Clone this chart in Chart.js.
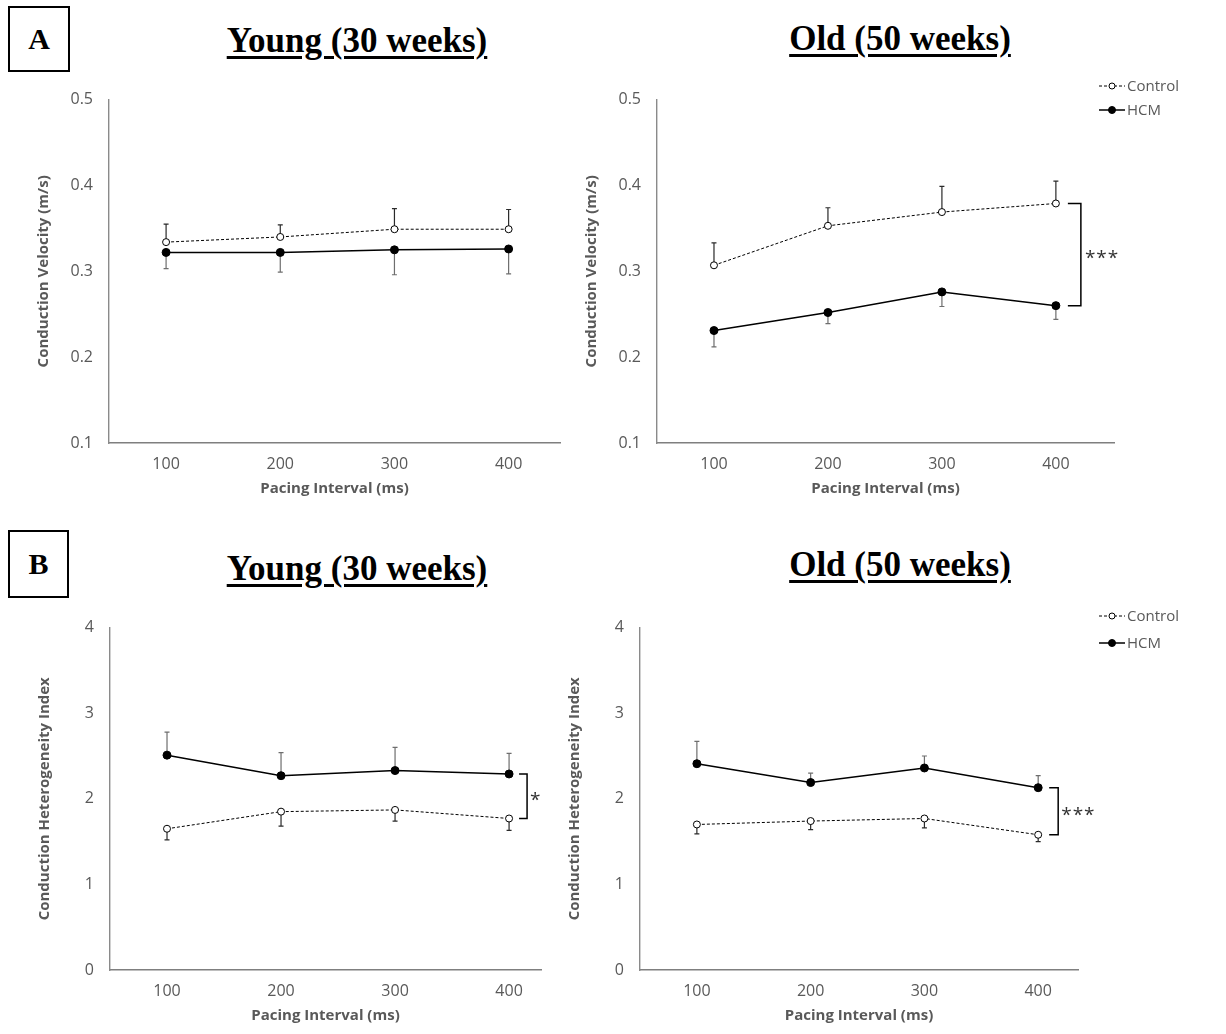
<!DOCTYPE html>
<html>
<head>
<meta charset="utf-8">
<script src="https://cdn.jsdelivr.net/npm/chart.js@4.4.1/dist/chart.umd.min.js"></script>
<style>
    body { margin: 0; background: #ffffff; }
    #page { position: relative; width: 1226px; height: 1034px; overflow: hidden; background: #ffffff; }
    .box {
        position: absolute; border: 2px solid #000; box-sizing: border-box;
        font: bold 30px "Liberation Serif", serif; color: #000;
        display: flex; align-items: center; justify-content: center;
    }
    .title {
        position: absolute; transform: translateX(-50%); white-space: nowrap;
        font: bold 35px/35px "Liberation Serif", serif; color: #000;
        text-decoration: underline; text-decoration-thickness: 3px; text-underline-offset: 4px;
    }
    canvas { position: absolute; }
</style>
</head>
<body>
<div id="page">
    <div class="box" style="left:8px;top:6px;width:62px;height:66px;">A</div>
    <div class="box" style="left:8px;top:530px;width:61px;height:68px;">B</div>
    <div class="title" style="left:357px;top:23px;">Young (30 weeks)</div>
    <div class="title" style="left:900px;top:21px;">Old (50 weeks)</div>
    <div class="title" style="left:357px;top:551px;">Young (30 weeks)</div>
    <div class="title" style="left:900px;top:547px;">Old (50 weeks)</div>
    <canvas id="aYoung"></canvas>
    <canvas id="aOld"></canvas>
    <canvas id="bYoung"></canvas>
    <canvas id="bOld"></canvas>
</div>
<script>
// pacing interval categories (ms)
const pacing = [100, 200, 300, 400];
const xTicks = [100, 200, 300, 400];
const cvTicks = [0.1, 0.2, 0.3, 0.4, 0.5];
const chiTicks = [0, 1, 2, 3, 4];
const seriesNames = ["Control", "HCM"];

// A: conduction velocity (m/s), mean and SEM
const youngCvControl = [0.334, 0.340, 0.349, 0.349];
const youngCvControlErr = [0.021, 0.014, 0.024, 0.023];
const youngCvHcm = [0.322, 0.322, 0.325, 0.326];
const youngCvHcmErr = [0.019, 0.023, 0.029, 0.029];

const oldCvControl = [0.307, 0.353, 0.369, 0.379];
const oldCvControlErr = [0.026, 0.021, 0.030, 0.026];
const oldCvHcm = [0.231, 0.252, 0.276, 0.260];
const oldCvHcmErr = [0.019, 0.013, 0.017, 0.016];

// B: conduction heterogeneity index
const youngChiControl = [1.65, 1.85, 1.87, 1.77];
const youngChiControlErr = [0.13, 0.17, 0.13, 0.14];
const youngChiHcm = [2.51, 2.27, 2.33, 2.29];
const youngChiHcmErr = [0.27, 0.27, 0.27, 0.24];

const oldChiControl = [1.70, 1.74, 1.77, 1.58];
const oldChiControlErr = [0.11, 0.10, 0.11, 0.08];
const oldChiHcm = [2.41, 2.19, 2.36, 2.13];
const oldChiHcmErr = [0.26, 0.11, 0.14, 0.14];

const FAMILY = "'Open Sans', sans-serif";
const GREY = "#595959";

function toPoints(values) {
    return pacing.map((x, i) => ({ x, y: values[i] }));
}

function controlSet(values, errors, errDir) {
    return {
        label: seriesNames[0],
        data: toPoints(values),
        borderColor: "#000000",
        borderWidth: 1,
        borderDash: [3, 2],
        pointRadius: 3.5,
        pointBackgroundColor: "#ffffff",
        pointBorderColor: "#000000",
        pointBorderWidth: 1,
        errors,
        errDir,
        errorColor: "#2a2a2a",
    };
}

function hcmSet(values, errors, errDir) {
    return {
        label: seriesNames[1],
        data: toPoints(values),
        borderColor: "#000000",
        borderWidth: 1.5,
        pointRadius: 4,
        pointBackgroundColor: "#000000",
        pointBorderColor: "#000000",
        pointBorderWidth: 1,
        errors,
        errDir,
        errorColor: "#6e6e6e",
    };
}

// one-sided error bars, drawn under the markers
const errorBars = {
    id: "errorBars",
    beforeDatasetsDraw(chart) {
        const { ctx, scales: { x, y } } = chart;
        chart.data.datasets.forEach((ds) => {
            if (!ds.errors) {
                return;
            }
            ctx.save();
            ctx.strokeStyle = ds.errorColor;
            ctx.lineWidth = 1.2;
            ds.data.forEach((p, i) => {
                const px = x.getPixelForValue(p.x);
                const y0 = y.getPixelForValue(p.y);
                const y1 = y.getPixelForValue(p.y + ds.errDir * ds.errors[i]);
                ctx.beginPath();
                ctx.moveTo(px, y0);
                ctx.lineTo(px, y1);
                ctx.moveTo(px - 2.5, y1);
                ctx.lineTo(px + 2.5, y1);
                ctx.stroke();
            });
            ctx.restore();
        });
    },
};

// significance bracket joining the last points of both series
const sigBracket = {
    id: "sigBracket",
    afterDatasetsDraw(chart, args, opts) {
        if (!opts.label) {
            return;
        }
        const { ctx, scales: { x, y } } = chart;
        const [a, b] = chart.data.datasets;
        const last = pacing.length - 1;
        const xr = x.getPixelForValue(pacing[last]) + opts.offset;
        const ya = y.getPixelForValue(a.data[last].y);
        const yb = y.getPixelForValue(b.data[last].y);
        ctx.save();
        ctx.strokeStyle = "#000000";
        ctx.lineWidth = 1.5;
        ctx.beginPath();
        ctx.moveTo(xr - opts.tick, ya);
        ctx.lineTo(xr, ya);
        ctx.lineTo(xr, yb);
        ctx.lineTo(xr - opts.tick, yb);
        ctx.stroke();
        ctx.fillStyle = "#333333";
        ctx.font = `19px ${FAMILY}`;
        ctx.letterSpacing = "1px";
        ctx.textAlign = "left";
        ctx.textBaseline = "middle";
        ctx.fillText(opts.label, xr + opts.labelGap, (ya + yb) / 2 + 4);
        ctx.restore();
    },
};

// legend with line + marker sample, placed at page coordinates
const lineLegend = {
    id: "lineLegend",
    afterDraw(chart, args, opts) {
        if (!opts.show) {
            return;
        }
        const { ctx } = chart;
        ctx.save();
        chart.data.datasets.forEach((ds, i) => {
            const x0 = opts.x;
            const yy = opts.y + i * opts.step;
            ctx.strokeStyle = ds.borderColor;
            ctx.lineWidth = ds.borderWidth;
            ctx.setLineDash(ds.borderDash || []);
            ctx.beginPath();
            ctx.moveTo(x0, yy);
            ctx.lineTo(x0 + 26, yy);
            ctx.stroke();
            ctx.setLineDash([]);
            ctx.beginPath();
            ctx.arc(x0 + 13, yy, ds.pointRadius - 0.5, 0, Math.PI * 2);
            ctx.fillStyle = ds.pointBackgroundColor;
            ctx.fill();
            ctx.lineWidth = 1;
            ctx.strokeStyle = ds.pointBorderColor;
            ctx.stroke();
            ctx.fillStyle = GREY;
            ctx.font = `15px ${FAMILY}`;
            ctx.textAlign = "left";
            ctx.textBaseline = "middle";
            ctx.fillText(ds.label, x0 + 28, yy + 1);
        });
        ctx.restore();
    },
};

const Y_WIDTH = 77;
const X_HEIGHT = 59;

function makePanel(id, panel) {
    const canvas = document.getElementById(id);
    const left = panel.axisLeft - Y_WIDTH;
    const top = panel.axisTop - 10;
    const width = panel.pageRight - left;
    const height = panel.axisBottom + X_HEIGHT - top;
    canvas.width = width;
    canvas.height = height;
    canvas.style.left = `${left}px`;
    canvas.style.top = `${top}px`;
    canvas.style.width = `${width}px`;
    canvas.style.height = `${height}px`;
    const yTicks = panel.yTicks;
    return new Chart(canvas, {
        type: "line",
        data: { datasets: panel.datasets },
        options: {
            responsive: false,
            animation: false,
            devicePixelRatio: 1,
            layout: { padding: { top: 10, right: panel.pageRight - panel.axisRight, left: 0, bottom: 0 } },
            plugins: {
                legend: { display: false },
                tooltip: { enabled: false },
                sigBracket: panel.bracket || {},
                lineLegend: panel.legend
                    ? { show: true, x: panel.legend.x - left, y: panel.legend.y - top, step: panel.legend.step }
                    : { show: false },
            },
            scales: {
                x: {
                    type: "linear",
                    min: 50,
                    max: panel.xMax,
                    afterBuildTicks: (scale) => {
                        scale.ticks = xTicks.map((value) => ({ value }));
                    },
                    afterFit: (scale) => {
                        scale.height = X_HEIGHT;
                    },
                    grid: { display: true, drawOnChartArea: false, drawTicks: false },
                    border: { display: true, color: "#7f7f7f", width: 1.4 },
                    ticks: { color: GREY, font: { family: FAMILY, size: 16 }, padding: 12 },
                    title: {
                        display: true,
                        text: "Pacing Interval (ms)",
                        color: GREY,
                        font: { family: FAMILY, size: 15, weight: "bold" },
                        padding: { top: 4, bottom: 4 },
                    },
                },
                y: {
                    type: "linear",
                    min: yTicks[0],
                    max: yTicks[yTicks.length - 1],
                    afterBuildTicks: (scale) => {
                        scale.ticks = yTicks.map((value) => ({ value }));
                    },
                    afterFit: (scale) => {
                        scale.width = Y_WIDTH;
                    },
                    grid: { display: true, drawOnChartArea: false, drawTicks: false },
                    border: { display: true, color: "#8a8a8a", width: 1.4 },
                    ticks: {
                        color: GREY,
                        font: { family: FAMILY, size: 16 },
                        padding: 16,
                        callback: (value) => panel.tickFormat(value),
                    },
                    title: {
                        display: true,
                        text: panel.yTitle,
                        color: GREY,
                        font: { family: FAMILY, size: 15, weight: "bold" },
                        padding: { top: 3, bottom: 4 },
                    },
                },
            },
        },
        plugins: [errorBars, sigBracket, lineLegend],
    });
}

const cvFormat = (value) => value.toFixed(1);
const chiFormat = (value) => String(value);

makePanel("aYoung", {
    axisLeft: 109, axisRight: 560, axisTop: 84, axisBottom: 443, pageRight: 575, xMax: 445,
    yTicks: cvTicks, tickFormat: cvFormat, yTitle: "Conduction Velocity (m/s)",
    datasets: [
        controlSet(youngCvControl, youngCvControlErr, 1),
        hcmSet(youngCvHcm, youngCvHcmErr, -1),
    ],
});

makePanel("aOld", {
    axisLeft: 657, axisRight: 1114, axisTop: 84, axisBottom: 443, pageRight: 1222, xMax: 451,
    yTicks: cvTicks, tickFormat: cvFormat, yTitle: "Conduction Velocity (m/s)",
    datasets: [
        controlSet(oldCvControl, oldCvControlErr, 1),
        hcmSet(oldCvHcm, oldCvHcmErr, -1),
    ],
    bracket: { label: "***", offset: 25, tick: 13, labelGap: 4 },
    legend: { x: 1099, y: 86, step: 24 },
});

makePanel("bYoung", {
    axisLeft: 110, axisRight: 541, axisTop: 612, axisBottom: 970, pageRight: 556, xMax: 428,
    yTicks: chiTicks, tickFormat: chiFormat, yTitle: "Conduction Heterogeneity Index",
    datasets: [
        controlSet(youngChiControl, youngChiControlErr, -1),
        hcmSet(youngChiHcm, youngChiHcmErr, 1),
    ],
    bracket: { label: "*", offset: 18, tick: 8, labelGap: 3 },
});

makePanel("bOld", {
    axisLeft: 640, axisRight: 1078, axisTop: 612, axisBottom: 970, pageRight: 1222, xMax: 435,
    yTicks: chiTicks, tickFormat: chiFormat, yTitle: "Conduction Heterogeneity Index",
    datasets: [
        controlSet(oldChiControl, oldChiControlErr, -1),
        hcmSet(oldChiHcm, oldChiHcmErr, 1),
    ],
    bracket: { label: "***", offset: 20, tick: 9, labelGap: 3 },
    legend: { x: 1099, y: 616, step: 27 },
});
</script>
</body>
</html>
